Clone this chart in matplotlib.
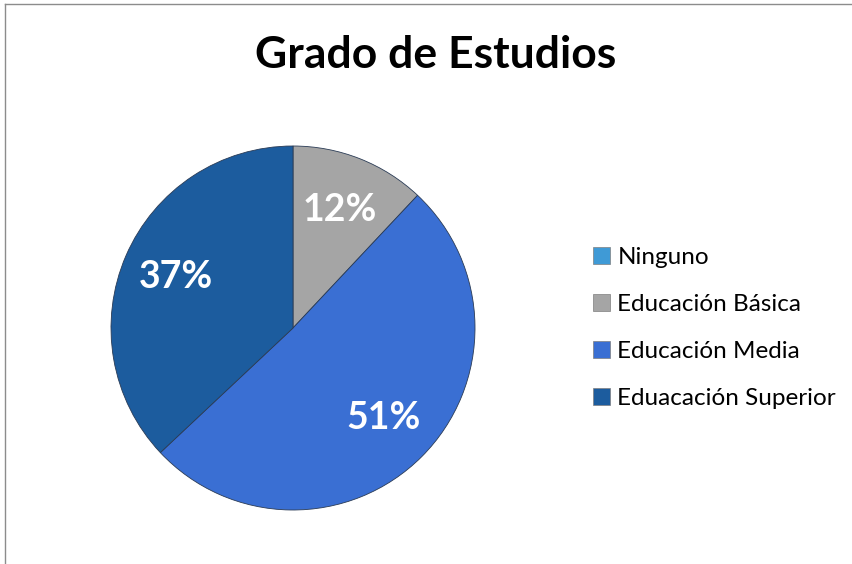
import matplotlib
matplotlib.use("Agg")
import matplotlib.pyplot as plt
from matplotlib.patches import Rectangle
from matplotlib.lines import Line2D

categories = ["Ninguno", "Educación Básica", "Educación Media", "Eduacación Superior"]
values = [0, 12, 51, 37]
colors = ["#3f9ad6", "#a5a5a5", "#3a6fd3", "#1c5c9e"]
title = "Grado de Estudios"

plt.rcParams['font.family'] = ['Lato', 'DejaVu Sans']

W, H = 853, 564
fig = plt.figure(figsize=(W / 100, H / 100), dpi=100)
fig.patch.set_facecolor("white")

# outer chart border (left and top visible)
fig.add_artist(Line2D([5.5 / W, 5.5 / W], [0, 1 - 3.5 / H], transform=fig.transFigure,
                      color="#8c8c8c", linewidth=1.0))
fig.add_artist(Line2D([5.5 / W, 1], [1 - 3.5 / H, 1 - 3.5 / H], transform=fig.transFigure,
                      color="#8c8c8c", linewidth=1.0))

cx, cy, r = 293, 328, 182
ax = fig.add_axes([(cx - r) / W, (H - cy - r) / H, 2 * r / W, 2 * r / H])

def fmt(p):
    return "" if p < 0.5 else f"{p:.0f}%"

wedges, texts, autotexts = ax.pie(
    values, colors=colors, startangle=90, counterclock=False, radius=1,
    autopct=fmt, pctdistance=0.70,
    wedgeprops=dict(edgecolor="#2a3b55", linewidth=0.6),
    textprops=dict(color="white", fontsize=27, fontweight="bold"))
ax.set_xlim(-1, 1)
ax.set_ylim(-1, 1)
ax.set_aspect("equal")
ax.axis("off")

fig.text(436 / W, 1 - 55 / H, title, ha="center", va="center",
         fontsize=32, fontweight="bold", color="black")

handles = [Rectangle((0, 0), 1, 1, facecolor=c, edgecolor="#7f7f7f", linewidth=0.5) for c in colors]
leg = fig.legend(handles, categories, loc="center left",
                 bbox_to_anchor=(581 / W, 1 - 328 / H), frameon=False,
                 fontsize=17.5, handlelength=0.7, handleheight=0.7,
                 handletextpad=0.3, labelspacing=1.08, borderpad=0)

fig.savefig("out.png", dpi=100)
